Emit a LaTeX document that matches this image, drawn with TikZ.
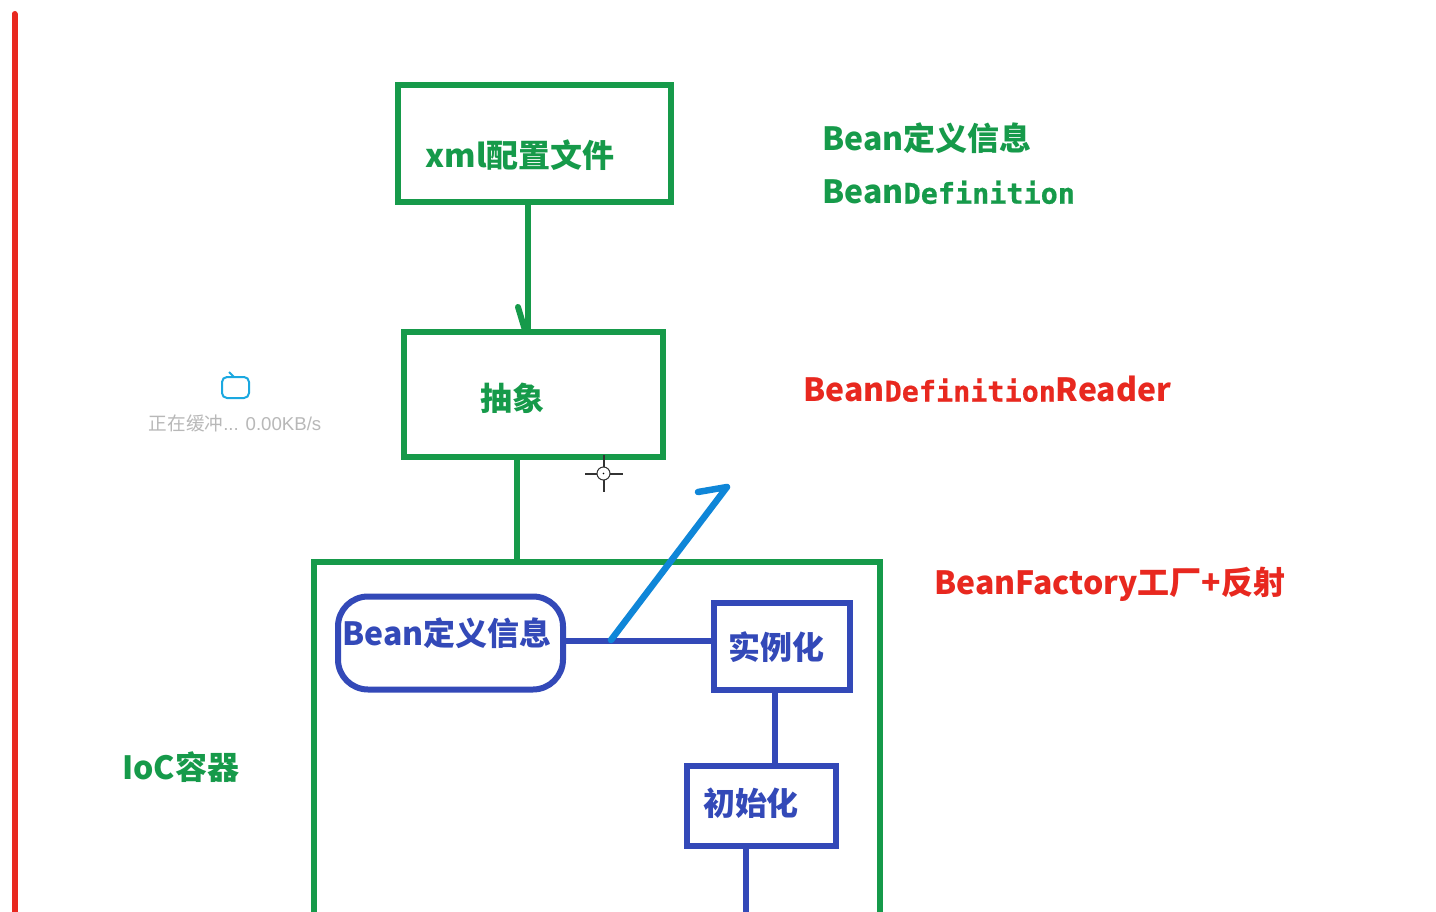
\documentclass[tikz,border=0pt]{standalone}
\usepackage{fontspec}
\setmainfont{Noto Sans CJK SC}
\newfontfamily\monofam[Scale=0.89,FakeBold=0.6]{DejaVu Sans Mono}
\newfontfamily\capfam{Liberation Sans}
\definecolor{boxgreen}{HTML}{169A4A}
\definecolor{boxblue}{HTML}{3349B8}
\definecolor{notered}{HTML}{E8281F}
\definecolor{penblue}{HTML}{0F86D8}
\definecolor{tvblue}{HTML}{1BA8E0}
\def\u{0.02cm}
\tikzset{
  greenbox/.style={draw=boxgreen,line width=6*\u,rectangle,inner sep=0pt,outer sep=0pt},
  bluebox/.style={draw=boxblue,line width=6*\u,rectangle,inner sep=0pt,outer sep=0pt},
  greentext/.style={text=boxgreen,font=\fontsize{18.2}{22}\selectfont\bfseries,inner sep=0pt},
  bluetext/.style={text=boxblue,font=\fontsize{18.2}{22}\selectfont\bfseries,inner sep=0pt},
  redtext/.style={text=notered,font=\fontsize{18.2}{22}\selectfont\bfseries,inner sep=0pt},
  greenline/.style={draw=boxgreen,line width=6*\u},
  blueline/.style={draw=boxblue,line width=6*\u},
}
\begin{document}
\begin{tikzpicture}[x=\u,y=-\u]
\clip (0,0) rectangle (1436,912);
\fill[white] (0,0) rectangle (1436,912);
\coordinate (r1) at (14.5,14);
\coordinate (r2) at (14.5,930);
\coordinate (xmlc) at (534.5,143.5);
\coordinate (absc) at (533.5,394.5);
\coordinate (iocc) at (596.5,762);
\coordinate (defc) at (450.5,643);
\coordinate (newc) at (781.5,646.5);
\coordinate (initc) at (761,806);
\coordinate (e1) at (746,930);
\coordinate (p1) at (611,640);
\coordinate (p2) at (727,487);
\coordinate (p3) at (698,492);
\coordinate (h1) at (518,307);
\coordinate (cur) at (603.5,473.5);
% left bar
\draw[notered,line width=6*\u,line cap=round] (r1) -- (r2);
% boxes
\node[greenbox,minimum width=273*\u,minimum height=117*\u] (xmlbox) at (xmlc) {};
\node[greenbox,minimum width=259*\u,minimum height=125*\u] (absbox) at (absc) {};
\node[greenbox,minimum width=566*\u,minimum height=400*\u] (iocbox) at (iocc) {};
\node[bluebox,rounded corners=30*\u,minimum width=225*\u,minimum height=93*\u] (defbox) at (defc) {};
\node[bluebox,minimum width=136*\u,minimum height=87*\u] (newbox) at (newc) {};
\node[bluebox,minimum width=149*\u,minimum height=80*\u] (initbox) at (initc) {};
% labels
\node[greentext] (xmltext) at (520,155) {xml配置文件};
\node[greentext] (abstext) at (512,398) {抽象};
\node[bluetext] (deftext) at (447,633) {Bean定义信息};
\node[bluetext] (newtext) at (776,647) {实例化};
\node[bluetext] (inittext) at (751,803) {初始化};
\node[greentext,anchor=west] (infotext) at (822,138) {Bean定义信息};
\node[greentext,anchor=west] (nametext) at (822,192) {Bean{\monofam Definition}};
\node[redtext,anchor=west] (readertext) at (803,389) {Bean{\monofam Definition}Reader};
\node[redtext,anchor=west] (factorytext) at (934,584) {BeanFactory工厂+反射};
\node[greentext,anchor=west] (ioctext) at (122,767) {IoC容器};
% connectors
\coordinate (xmlout) at ([xshift=-7*\u]xmlbox.south);
\coordinate (absout) at ([xshift=-17*\u]absbox.south);
\coordinate (defout) at ([yshift=2*\u]defbox.east);
\coordinate (newout) at ([xshift=-7*\u]newbox.south);
\coordinate (initout) at ([xshift=-15*\u]initbox.south);
\draw[greenline] (xmlout) -- (xmlout |- absbox.north);
\draw[greenline,line cap=round] (h1) -- ([xshift=-8*\u]absbox.north);
\draw[greenline] (absout) -- (absout |- iocbox.north);
\draw[blueline] (defout) -- (defout -| newbox.west);
\draw[blueline] (newout) -- (newout |- initbox.north);
\draw[blueline] (initout) -- (initout |- e1);
% pen stroke
\draw[penblue,line width=6.5*\u,line cap=round,line join=round] (p1) -- (p2) -- (p3);
% player overlay
\draw[tvblue,line width=2*\u,rounded corners=5*\u] (222,377) rectangle (249,398);
\draw[tvblue,line width=2*\u] (229,372) -- (234,377);
\node[text=black!28,font=\fontsize{10.6}{13}\selectfont,inner sep=0pt] (bufftext) at (235,423.5) {正在缓冲{\capfam ... 0.00KB/s}};
% cursor
\node[draw=black!80,circle,line width=1*\u,minimum size=13*\u,inner sep=0pt,outer sep=0pt] (curnode) at (cur) {};
\fill[black] (cur) circle (0.8*\u);
\draw[black!80,line width=2*\u] (curnode.west) -- +(-12,0);
\draw[black!80,line width=2*\u] (curnode.east) -- +(13,0);
\draw[black!80,line width=2*\u] (curnode.north) -- +(0,-12);
\draw[black!80,line width=2*\u] (curnode.south) -- +(0,12);
\end{tikzpicture}
\end{document}
